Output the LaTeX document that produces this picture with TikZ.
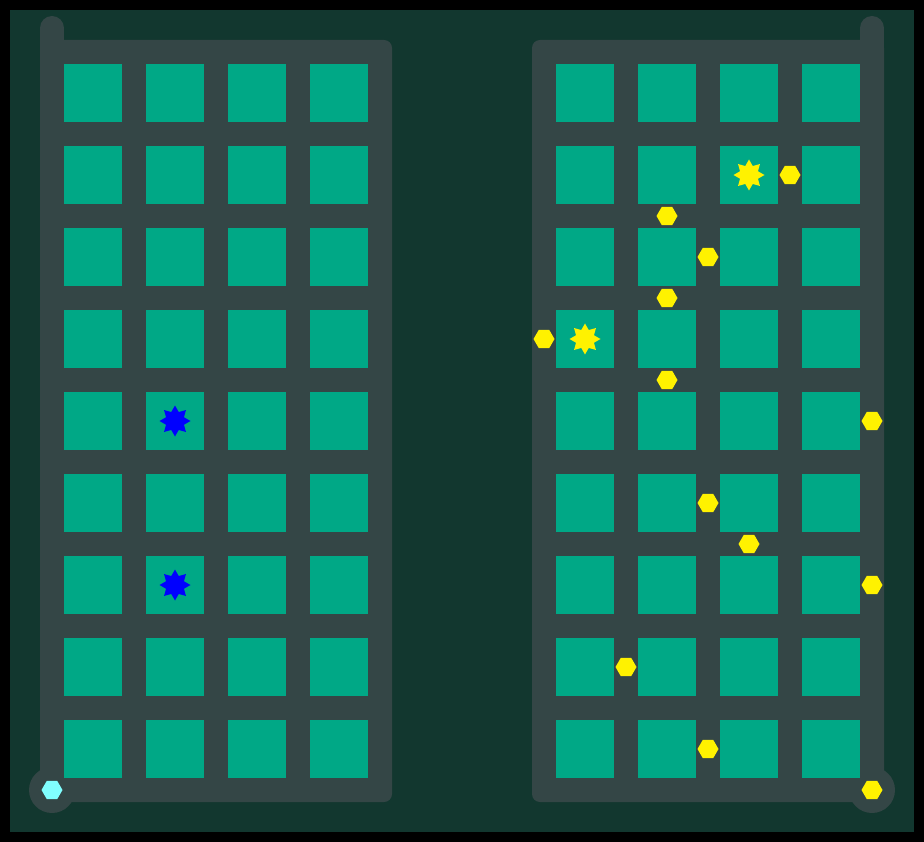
\documentclass[tikz,border=0pt]{standalone}
\usetikzlibrary{shapes.geometric}

\definecolor{bgcol}{HTML}{12372F}
\definecolor{roadcol}{HTML}{344646}
\definecolor{blockcol}{HTML}{00A886}
\definecolor{lightcyan}{HTML}{80FFFF}

\tikzset{
    road/.style={line width=24pt, roadcol, line cap=round},
    hexmark/.style={regular polygon, regular polygon sides=6, minimum size=21pt,
        inner sep=0pt, fill=#1},
    starmark/.style={star, star points=8, star point ratio=1.6, minimum size=31pt,
        inner sep=0pt, fill=#1},
}

\begin{document}
\begin{tikzpicture}[x=1pt, y=-1pt]
    \fill[black] (0,0) rectangle (924,842);
    \fill[bgcol] (10,10) rectangle (914,832);

    % left block
    \begin{scope}
        \draw[road] (52,28) -- (52,60);
        \fill[roadcol, rounded corners=8pt] (40,40) rectangle (392,802);
        \fill[roadcol] (52,790) circle (23);
        \foreach \i in {0,...,3}
            \foreach \j in {0,...,8}
                \fill[blockcol] (64+82*\i,64+82*\j) rectangle ++(58,58);
        \node[starmark=blue] (sb1) at (175,421) {};
        \node[starmark=blue] (sb2) at (175,585) {};
        \node[hexmark=lightcyan] (hc) at (52,790) {};
    \end{scope}

    % right block
    \begin{scope}[shift={(492,0)}]
        \draw[road] (380,28) -- (380,60);
        \fill[roadcol, rounded corners=8pt] (40,40) rectangle (392,802);
        \fill[roadcol] (380,790) circle (23);
        \foreach \i in {0,...,3}
            \foreach \j in {0,...,8}
                \fill[blockcol] (64+82*\i,64+82*\j) rectangle ++(58,58);
        \node[starmark=yellow] (sy1) at (257,175) {};
        \node[starmark=yellow] (sy2) at (93,339) {};
        \foreach \p [count=\k] in {(298,175), (175,216), (216,257), (175,298),
            (52,339), (175,380), (380,421), (216,503), (257,544), (380,585),
            (134,667), (216,749), (380,790)}
            \node[hexmark=yellow] (hy\k) at \p {};
    \end{scope}
\end{tikzpicture}
\end{document}
